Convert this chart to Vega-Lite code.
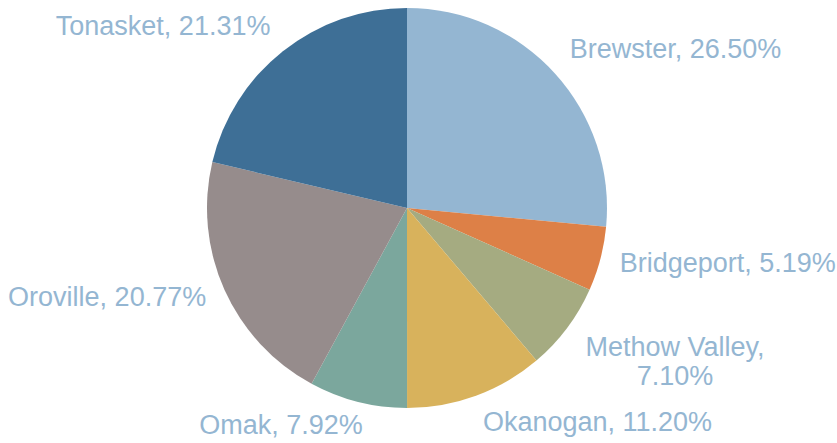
{
  "$schema": "https://vega.github.io/schema/vega-lite/v6.json",
  "width": 814,
  "height": 416,
  "autosize": {"type": "none"},
  "padding": {"left": 0, "top": 0, "right": 23, "bottom": 27},
  "background": "white",
  "config": {"view": {"stroke": null}},
  "data": {
    "values": [
      {"name": "Brewster", "value": 26.50, "label": "Brewster, 26.50%"},
      {"name": "Bridgeport", "value": 5.19, "label": "Bridgeport, 5.19%"},
      {"name": "Methow Valley", "value": 7.10, "label": "Methow Valley,\n7.10%"},
      {"name": "Okanogan", "value": 11.20, "label": "Okanogan, 11.20%"},
      {"name": "Omak", "value": 7.92, "label": "Omak, 7.92%"},
      {"name": "Oroville", "value": 20.77, "label": "Oroville, 20.77%"},
      {"name": "Tonasket", "value": 21.31, "label": "Tonasket, 21.31%"}
    ]
  },
  "encoding": {
    "theta": {"field": "value", "type": "quantitative", "stack": true},
    "order": {"field": "name", "sort": "ascending"}
  },
  "layer": [
    {
      "mark": {"type": "arc", "outerRadius": 200},
      "encoding": {
        "color": {
          "field": "name",
          "type": "nominal",
          "legend": null,
          "scale": {
            "domain": ["Brewster", "Bridgeport", "Methow Valley", "Okanogan", "Omak", "Oroville", "Tonasket"],
            "range": ["#94B6D2", "#DD8047", "#A5AB81", "#D8B25C", "#7BA79D", "#968C8C", "#3E6F96"]
          }
        }
      }
    },
    {
      "mark": {
        "type": "text",
        "radius": 220,
        "font": "Liberation Sans",
        "fontSize": 27,
        "fill": "#94B6D2",
        "lineBreak": "\n",
        "lineHeight": 29,
        "align": {"expr": "datum.name === 'Methow Valley' ? 'center' : (indexof(['Omak','Oroville','Tonasket'], datum.name) >= 0 ? 'right' : 'left')"},
        "baseline": {"expr": "indexof(['Brewster','Tonasket'], datum.name) >= 0 ? 'bottom' : (indexof(['Okanogan','Omak','Methow Valley'], datum.name) >= 0 ? 'top' : 'middle')"},
        "dx": {"expr": "datum.name === 'Methow Valley' ? 92 : (datum.name === 'Omak' ? 10 : 0)"},
        "dy": {"expr": "datum.name === 'Methow Valley' ? -5 : (datum.name === 'Omak' ? -8 : (datum.name === 'Okanogan' ? -4 : (datum.name === 'Tonasket' ? 6 : (datum.name === 'Brewster' ? 4 : 0))))"}
      },
      "encoding": {
        "detail": {"field": "name", "type": "nominal"},
        "text": {"field": "label", "type": "nominal"}
      }
    }
  ]
}
